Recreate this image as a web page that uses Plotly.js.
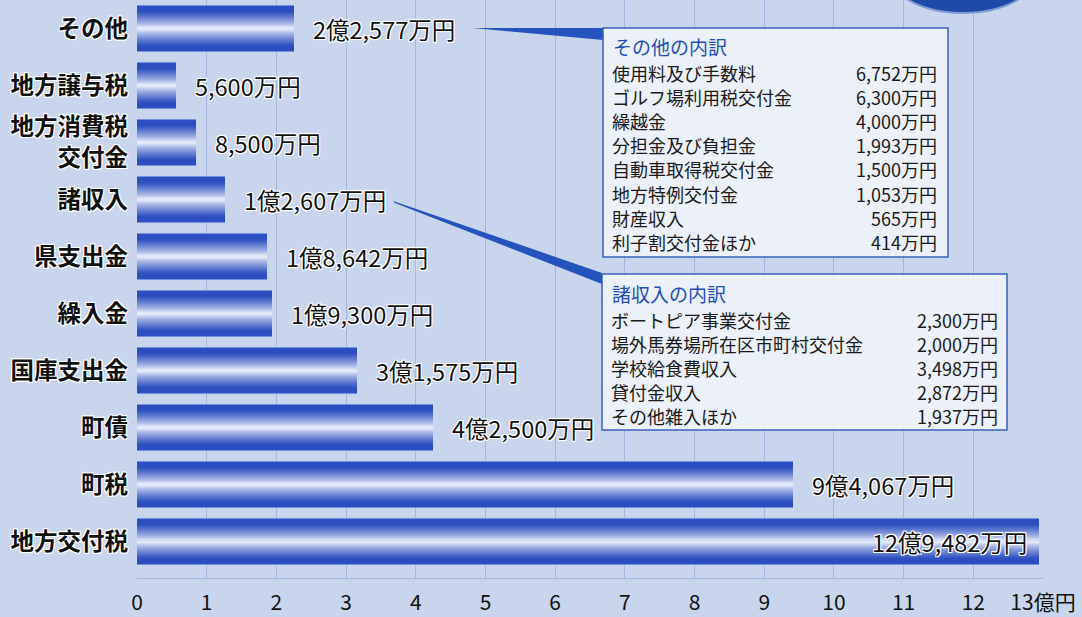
<!DOCTYPE html>
<html>
<head>
<meta charset="utf-8">
<script src="https://cdn.plot.ly/plotly-3.0.1.min.js"></script>
<style>
  html, body { margin: 0; padding: 0; background: #c9d5ec; }
  #chart { width: 1082px; height: 617px; }
</style>
</head>
<body>
<div id="chart"></div>
<script>
// ---- data (values in 万円) ----
const categories = ['その他', '地方譲与税', '地方消費税<br>交付金', '諸収入', '県支出金', '繰入金', '国庫支出金', '町債', '町税', '地方交付税'];
const valuesMan = [22577, 5600, 8500, 12607, 18642, 19300, 31575, 42500, 94067, 129482];

const tickValues = [0, 1, 2, 3, 4, 5, 6, 7, 8, 9, 10, 11, 12, 13];
const tickLabels = ['0', '1', '2', '3', '4', '5', '6', '7', '8', '9', '10', '11', '12', '13億円'];

const otherTitle = 'その他の内訳';
const otherItems = ['使用料及び手数料', 'ゴルフ場利用税交付金', '繰越金', '分担金及び負担金', '自動車取得税交付金', '地方特例交付金', '財産収入', '利子割交付金ほか'];
const otherValues = ['6,752万円', '6,300万円', '4,000万円', '1,993万円', '1,500万円', '1,053万円', '565万円', '414万円'];

const miscTitle = '諸収入の内訳';
const miscItems = ['ボートピア事業交付金', '場外馬券場所在区市町村交付金', '学校給食費収入', '貸付金収入', 'その他雑入ほか'];
const miscValues = ['2,300万円', '2,000万円', '3,498万円', '2,872万円', '1,937万円'];

// ---- helpers ----
const FONT = '"Noto Sans CJK JP", "Noto Sans", sans-serif';
const xOku = valuesMan.map(v => v / 10000);
function fmt(v) {
  const oku = Math.floor(v / 10000), man = v % 10000;
  const m = man.toLocaleString('en-US');
  return (oku > 0 ? oku + '億' : '') + m + '万円';
}
// plot area in pixels: x 137..1043, y 0..578
const L = 137, R = 1043, T = 0, B = 578;
const px = x => (x - L) / (R - L);
const py = y => 1 - (y - T) / (B - T);

// ---- gradient bars built from layered overlay bars ----
const blue = [44, 78, 192], white = [252, 253, 255];
const N = 22, W = 0.79;
const traces = [];
// thin light top/bottom edge
traces.push({
  type: 'bar', orientation: 'h', x: xOku, y: categories, width: W + 0.02,
  marker: { color: 'rgb(118,146,220)', line: { width: 0 } }, hoverinfo: 'skip', showlegend: false
});
for (let k = 0; k < N; k++) {
  const d = 1 - k / N;                 // distance from centre (1 = edge)
  const t = Math.pow(Math.min(1, d / 0.78), 0.75);
  const c = white.map((w, i) => Math.round(w * (1 - t) + blue[i] * t));
  traces.push({
    type: 'bar', orientation: 'h',
    x: xOku, y: categories,
    width: W * d,
    marker: { color: 'rgb(' + c.join(',') + ')', line: { width: 0 } },
    hoverinfo: 'skip', showlegend: false
  });
}

// ---- annotations ----
const halo = '1px 1px 0 #fff, -1px -1px 0 #fff, 1px -1px 0 #fff, -1px 1px 0 #fff, 0 1px 1px #fff, 0 -1px 1px #fff';
const annotations = [];
categories.forEach((c, i) => {
  const inside = xOku[i] > 12.5;
  annotations.push({
    x: xOku[i], y: c, xref: 'x', yref: 'y',
    text: fmt(valuesMan[i]), showarrow: false,
    xanchor: inside ? 'right' : 'left', xshift: inside ? -10 : 17,
    font: { family: FONT, size: 23.5, color: '#111', shadow: halo }
  });
});
function box(title, items, vals, x0, yTitle, y0, step, xVal) {
  annotations.push({ x: px(x0 + 9), y: py(yTitle), xref: 'paper', yref: 'paper', xanchor: 'left', yanchor: 'middle',
    text: title, showarrow: false, borderpad: 0, font: { family: FONT, size: 19, color: '#1f4fb0' } });
  items.forEach((it, j) => {
    annotations.push({ x: px(x0 + 8), y: py(y0 + j * step), xref: 'paper', yref: 'paper', xanchor: 'left', yanchor: 'middle',
      text: it, showarrow: false, borderpad: 0, font: { family: FONT, size: 18, color: '#1a1a1a' } });
    annotations.push({ x: px(xVal), y: py(y0 + j * step), xref: 'paper', yref: 'paper', xanchor: 'right', yanchor: 'middle',
      text: vals[j], showarrow: false, borderpad: 0, font: { family: FONT, size: 18, color: '#1a1a1a' } });
  });
}
box(otherTitle, otherItems, otherValues, 603, 46, 73, 24.1, 938);
box(miscTitle, miscItems, miscValues, 602, 293, 320, 24, 999);

// ---- shapes (decorations) ----
function pathPx(pts) {
  return 'M' + pts.map(p => px(p[0]) + ',' + py(p[1])).join(' L') + ' Z';
}
const shapes = [
  // top-right ellipse ornament
  { type: 'circle', xref: 'paper', yref: 'paper', x0: px(888), x1: px(1038), y0: py(13), y1: py(-70),
    fillcolor: '#1d4aa6', line: { color: '#7f9ad6', width: 2 }, layer: 'above' },
  // connector wedges
  { type: 'path', xref: 'paper', yref: 'paper', path: pathPx([[473, 28], [603, 28], [603, 40]]),
    fillcolor: '#2453bd', line: { width: 0 }, layer: 'above' },
  { type: 'path', xref: 'paper', yref: 'paper', path: pathPx([[393, 201], [395, 203], [602, 284], [602, 273]]),
    fillcolor: '#2453bd', line: { width: 0 }, layer: 'above' },
  // inset boxes
  { type: 'rect', xref: 'paper', yref: 'paper', x0: px(603), x1: px(948), y0: py(28), y1: py(257),
    fillcolor: 'rgba(238,242,250,0.92)', line: { color: '#3b60b8', width: 1.5 }, layer: 'above' },
  { type: 'rect', xref: 'paper', yref: 'paper', x0: px(602), x1: px(1007), y0: py(274), y1: py(430),
    fillcolor: 'rgba(238,242,250,0.92)', line: { color: '#3b60b8', width: 1.5 }, layer: 'above' }
];

const layout = {
  width: 1082, height: 617,
  margin: { l: L, r: 1082 - R, t: T, b: 617 - B, pad: 0 },
  paper_bgcolor: '#c9d5ec', plot_bgcolor: 'rgba(0,0,0,0)',
  barmode: 'overlay', bargap: 0,
  showlegend: false,
  font: { family: FONT, color: '#111' },
  xaxis: {
    range: [0, 13], tickvals: tickValues, ticktext: tickLabels,
    showgrid: true, gridcolor: '#a3b6df', gridwidth: 1,
    zeroline: false, showline: true, linecolor: '#a3b6df', linewidth: 1,
    ticks: '', ticklabelstandoff: 6,
    tickfont: { family: FONT, size: 21, color: '#111' }, fixedrange: true
  },
  yaxis: {
    type: 'category', range: [9.64, -0.5],
    showgrid: false, zeroline: false, showline: false, ticks: '',
    ticklabelstandoff: 8,
    tickfont: { family: FONT, size: 23.5, color: '#111', weight: 'bold', shadow: halo }, fixedrange: true
  },
  annotations: annotations,
  shapes: shapes
};

Plotly.newPlot('chart', traces, layout, { displayModeBar: false, staticPlot: true });
</script>
</body>
</html>
